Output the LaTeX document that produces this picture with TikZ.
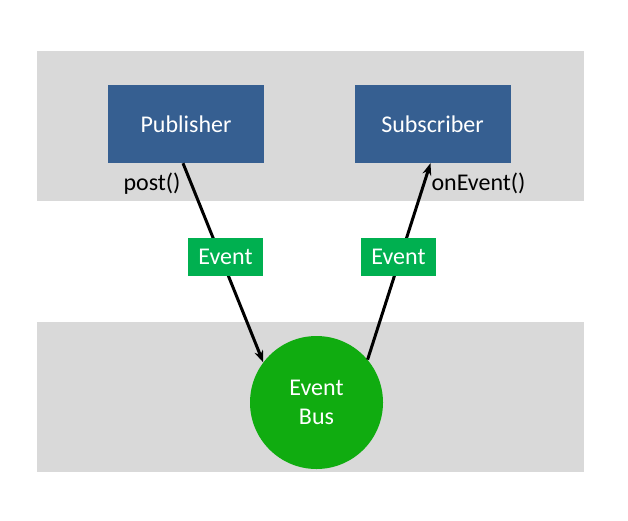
\documentclass[tikz,border=0pt]{standalone}
\usepackage{fontspec}
\setmainfont{Carlito}
\usetikzlibrary{arrows.meta}
\definecolor{band}{HTML}{D9D9D9}
\definecolor{boxblue}{HTML}{365F91}
\definecolor{tagreen}{HTML}{00B050}
\definecolor{busgreen}{HTML}{10AC10}
\tikzset{
  txt/.style={font=\fontsize{24}{29}\selectfont},
  actor/.style={txt, fill=boxblue, text=white, minimum width=156pt, minimum height=78pt, inner sep=0pt},
  evtag/.style={txt, fill=tagreen, text=white, minimum width=75pt, minimum height=38pt, inner sep=0pt},
  busnode/.style={txt, circle, fill=busgreen, text=white, minimum size=133pt, inner sep=0pt, align=center},
  flow/.style={draw=black, line width=3pt, -{Stealth[length=12pt,width=9pt]}},
  bandbox/.style={fill=band, draw=none}
}
\begin{document}
\begin{tikzpicture}[x=1pt,y=-1pt]
\useasboundingbox (0,0) rectangle (628,520);
\fill[white] (0,0) rectangle (628,520);
\path[bandbox] (37,51) rectangle (584,201);
\path[bandbox] (37,322) rectangle (584,472);
\node[actor] (pub) at (186,124) {Publisher};
\node[actor] (sub) at (432.5,124) {Subscriber};
\node[busnode] (bus) at (316.5,402.5) {Event\\[0pt]Bus};
\draw[flow] ([xshift=-3pt]pub.south) -- (bus.143);
\draw[flow] (bus.40) -- ([xshift=-2pt]sub.south);
\node[evtag] (ev1) at (225.5,257) {Event};
\node[evtag] (ev2) at (398.5,257) {Event};
\node[txt, anchor=base] (post) at (152,190) {post()};
\node[txt, anchor=base] (onev) at (478.5,190) {onEvent()};
\end{tikzpicture}
\end{document}
